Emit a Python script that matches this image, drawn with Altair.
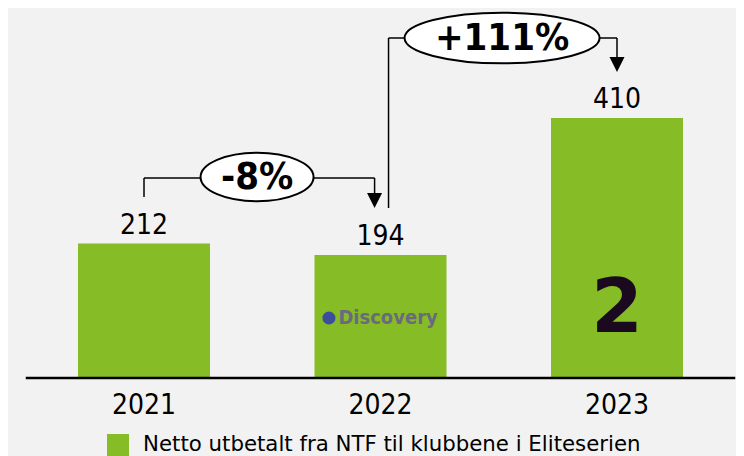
import altair as alt
import pandas as pd

# ---- data ----
years = ["2021", "2022", "2023"]
values = [212, 194, 410]
changes = ["-8%", "+111%"]
series_name = "Netto utbetalt fra NTF til klubbene i Eliteserien"

# ---- style ----
BG = "#f2f2f2"
GREEN = "#86bc25"
FONT = "DejaVu Sans Condensed, DejaVu Sans"
W, H = 728, 448
XDOM = [-0.5751, 2.5032]
YDOM = [-123.02, 583.5]
PX = H / (YDOM[1] - YDOM[0])  # pixels per unit


def u(px):
    return px / PX


xs = alt.Scale(domain=XDOM, nice=False, zero=False, padding=0)
ys = alt.Scale(domain=YDOM, nice=False, zero=False, padding=0)


def X(f="x"):
    return alt.X(f"{f}:Q", scale=xs, axis=None)


def Y(f="y"):
    return alt.Y(f"{f}:Q", scale=ys, axis=None)


bars_df = pd.DataFrame({
    "x": list(range(len(years))),
    "year": years,
    "y": values,
    "y0": [0] * len(years),
    "series": [series_name] * len(years),
})

bars = alt.Chart(bars_df).mark_bar(size=132).encode(
    x=X(), y=Y(), y2="y0:Q",
    color=alt.Color("series:N", scale=alt.Scale(range=[GREEN]),
                    legend=alt.Legend(orient="none", legendX=99, legendY=426,
                                      title=None, symbolType="square",
                                      symbolSize=484, symbolStrokeWidth=0,
                                      labelFontSize=21.3, labelFont="DejaVu Sans",
                                      labelColor="black", padding=0,
                                      labelOffset=14, labelLimit=0)),
)

value_labels = alt.Chart(bars_df).mark_text(
    dy=-10, baseline="alphabetic", fontSize=28, font=FONT, color="black"
).encode(x=X(), y=Y(), text="y:Q")

year_labels = alt.Chart(bars_df).mark_text(
    dy=36, baseline="alphabetic", fontSize=28, font=FONT, color="black"
).encode(x=X(), y=Y("y0"), text="year:N")

base_df = pd.DataFrame({"x": [-0.5], "x2": [2.5], "y": [0]})
baseline = alt.Chart(base_df).mark_rule(color="black", strokeWidth=2.5).encode(
    x=X(), x2="x2:Q", y=Y()
)

# ---- change brackets ----
lvl1 = 315.4
lvl2 = 536.2
start1 = 285.4
tip1 = 268.1
start2 = 268.1
tip2 = 482.5
head = u(15)
ax1 = 1 - 0.025
bx2 = 1 + 0.034

seg_df = pd.DataFrame({
    "x":  [0,      0,    ax1,          bx2,    bx2,  2],
    "x2": [0,      ax1,  ax1,          bx2,    2,    2],
    "y":  [start1, lvl1, lvl1,         start2, lvl2, lvl2],
    "y2": [lvl1,   lvl1, tip1 + head - 1, lvl2, lvl2, tip2 + head - 1],
})
segments = alt.Chart(seg_df).mark_rule(color="black", strokeWidth=1.5).encode(
    x=X(), x2="x2:Q", y=Y(), y2="y2:Q"
)

heads_df = pd.DataFrame({"x": [ax1, 2], "y": [tip1 + head / 2, tip2 + head / 2]})
heads = alt.Chart(heads_df).mark_point(
    shape="M-1,-1L1,-1L0,1Z", size=225, filled=True, color="black", opacity=1
).encode(x=X(), y=Y())

ell_df = pd.DataFrame({"x": [0.478, 1.514], "y": [lvl1 + u(1), lvl2], "t": changes})
ell1 = alt.Chart(ell_df.iloc[[0]]).mark_point(
    shape="M-1,0A1,0.43,0,1,1,1,0A1,0.43,0,1,1,-1,0Z", size=113 ** 2,
    filled=True, fill="white", stroke="black", strokeWidth=2, opacity=1
).encode(x=X(), y=Y())
ell2 = alt.Chart(ell_df.iloc[[1]]).mark_point(
    shape="M-1,0A1,0.26,0,1,1,1,0A1,0.26,0,1,1,-1,0Z", size=195 ** 2,
    filled=True, fill="white", stroke="black", strokeWidth=2, opacity=1
).encode(x=X(), y=Y())
ell_text = alt.Chart(ell_df).mark_text(
    baseline="middle", dy=1, fontSize=38, fontWeight="bold", font=FONT, color="black"
).encode(x=X(), y=Y(), text="t:N")

# ---- broadcaster marks on the bars (as text) ----
disc_df = pd.DataFrame({"x": [1.032], "y": [94.6], "t": ["Discovery"]})
disc = alt.Chart(disc_df).mark_text(
    baseline="middle", fontSize=20, fontWeight="bold", font=FONT, color="#6a6a7e"
).encode(x=X(), y=Y(), text="t:N")
globe_df = pd.DataFrame({"x": [0.782], "y": [94.6]})
globe = alt.Chart(globe_df).mark_point(
    shape="circle", size=170, filled=True, color="#3d4c9c", opacity=1
).encode(x=X(), y=Y())

tv2_df = pd.DataFrame({"x": [2], "y": [72.5], "t": ["2"]})
tv2 = alt.Chart(tv2_df).mark_text(
    baseline="alphabetic", fontSize=74, fontWeight="bold", font="DejaVu Sans",
    color="#1b0a1f"
).encode(x=X(), y=Y(), text="t:N")

chart = alt.layer(
    bars, baseline, value_labels, year_labels, segments, heads,
    ell1, ell2, ell_text, disc, globe, tv2
).properties(
    width=W, height=H, padding=0,
    autosize=alt.AutoSizeParams(type="none"),
    background=BG,
).configure_view(stroke=None)

chart.save("out.html", embed_options={"renderer": "svg", "actions": False})
